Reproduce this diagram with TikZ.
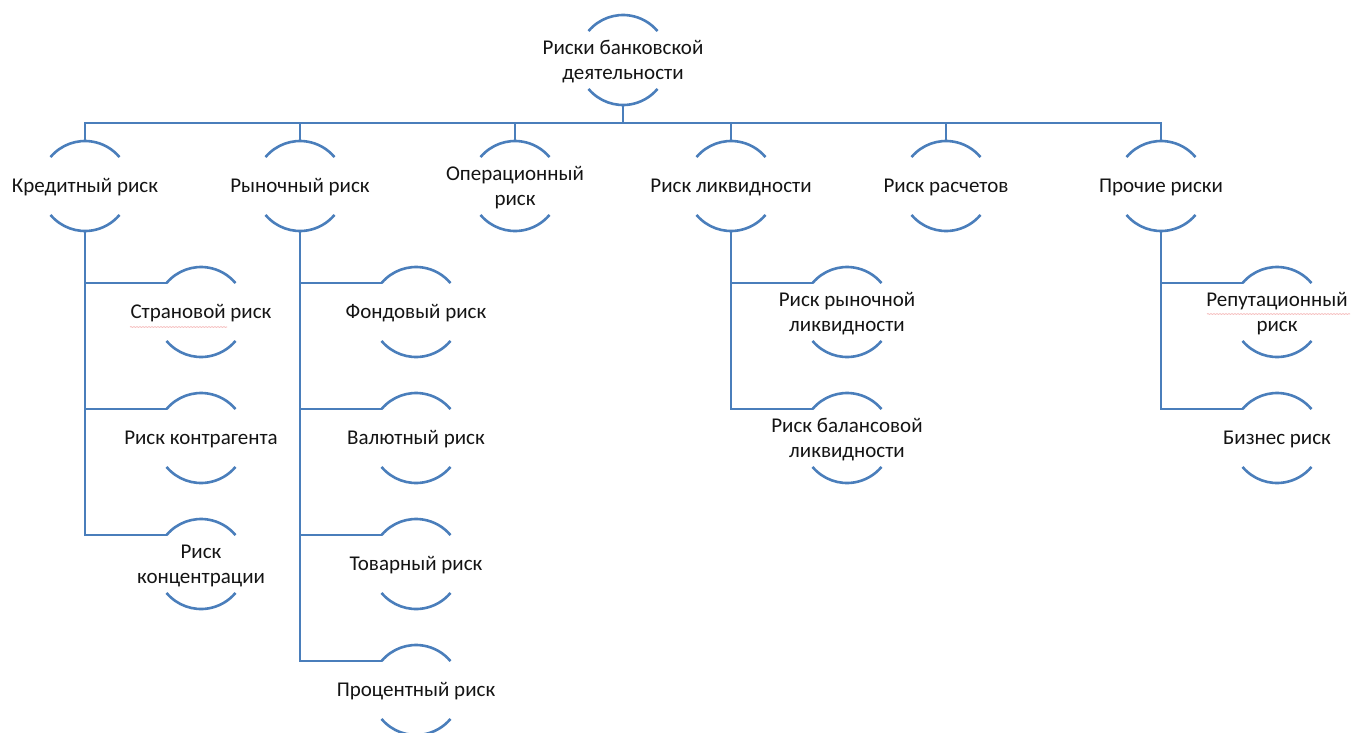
\documentclass[tikz,border=0pt]{standalone}
\usepackage{fontspec}
\setmainfont{Carlito}
\usetikzlibrary{calc,decorations.pathmorphing}
\definecolor{linkblue}{RGB}{74,126,187}
\definecolor{spellred}{RGB}{240,160,160}

% one risk item: label at centre, arcs above and below,
% coordinates <name>-t (top of upper arc), <name>-b (bottom of lower arc),
% <name>-l (left end of upper arc)
\newcommand{\riskitem}[4]{%
  \coordinate (#1-c) at (#2,-#3);
  \node[risklabel] (#1) at (#1-c) {#4};
  \draw[arcline] ($(#1-c)+(140:45)$) arc[start angle=140,end angle=40,radius=45];
  \draw[arcline] ($(#1-c)+(220:45)$) arc[start angle=220,end angle=320,radius=45];
  \coordinate (#1-t) at ($(#1-c)+(0,45)$);
  \coordinate (#1-b) at ($(#1-c)+(0,-45)$);
  \coordinate (#1-l) at ($(#1-c)+(140:45)$);
}

\begin{document}
\begin{tikzpicture}[x=1pt,y=1pt,
  risklabel/.style={inner sep=0pt,align=center,yshift=-1.5pt,
    font=\fontsize{21}{25}\selectfont,text=black!92},
  arcline/.style={draw=linkblue,line width=2.6pt},
  link/.style={draw=linkblue,line width=2.6pt,line join=miter},
  spell/.style={draw=spellred,line width=0.6pt,decorate,
    decoration={snake,amplitude=0.4pt,segment length=3pt}}]
\useasboundingbox (0,0) rectangle (1352,-732);
\clip (0,0) rectangle (1352,-732);

% root
\riskitem{root}{623}{60}{Риски банковской\\деятельности}

% first level
\riskitem{cred}{85}{186}{Кредитный риск}
\riskitem{mark}{300}{186}{Рыночный риск}
\riskitem{oper}{515}{186}{Операционный\\риск}
\riskitem{liq}{731}{186}{Риск ликвидности}
\riskitem{sett}{946}{186}{Риск расчетов}
\riskitem{other}{1161}{186}{Прочие риски}

% second level: credit risk
\riskitem{country}{201}{312}{Страновой риск}
\riskitem{counter}{201}{438}{Риск контрагента}
\riskitem{conc}{201}{564}{Риск\\концентрации}

% second level: market risk
\riskitem{stock}{416}{312}{Фондовый риск}
\riskitem{fx}{416}{438}{Валютный риск}
\riskitem{commod}{416}{564}{Товарный риск}
\riskitem{rate}{416}{690}{Процентный риск}

% second level: liquidity risk
\riskitem{mliq}{847}{312}{Риск рыночной\\ликвидности}
\riskitem{bliq}{847}{438}{Риск балансовой\\ликвидности}

% second level: other risks
\riskitem{rep}{1277}{312}{Репутационный\\риск}
\riskitem{biz}{1277}{438}{Бизнес риск}

% bus under the root
\coordinate (bus) at (623,-123);
\draw[link] (root-b) -- (bus);
\draw[link] (cred-t) -- (cred-t |- bus) -- (other-t |- bus) -- (other-t);
\foreach \n in {mark,oper,liq,sett} \draw[link] (\n-t) -- (\n-t |- bus);

% branches to the second level
\draw[link] (cred-b) |- (conc-l);
\draw[link] (cred-b |- country-l) -- (country-l);
\draw[link] (cred-b |- counter-l) -- (counter-l);

\draw[link] (mark-b) |- (rate-l);
\draw[link] (mark-b |- stock-l) -- (stock-l);
\draw[link] (mark-b |- fx-l) -- (fx-l);
\draw[link] (mark-b |- commod-l) -- (commod-l);

\draw[link] (liq-b) |- (bliq-l);
\draw[link] (liq-b |- mliq-l) -- (mliq-l);

\draw[link] (other-b) |- (biz-l);
\draw[link] (other-b |- rep-l) -- (rep-l);

% spelling marks under two words
\draw[spell] (130,-327) -- (227,-327);
\draw[spell] (1207,-314) -- (1350,-314);
\end{tikzpicture}
\end{document}
